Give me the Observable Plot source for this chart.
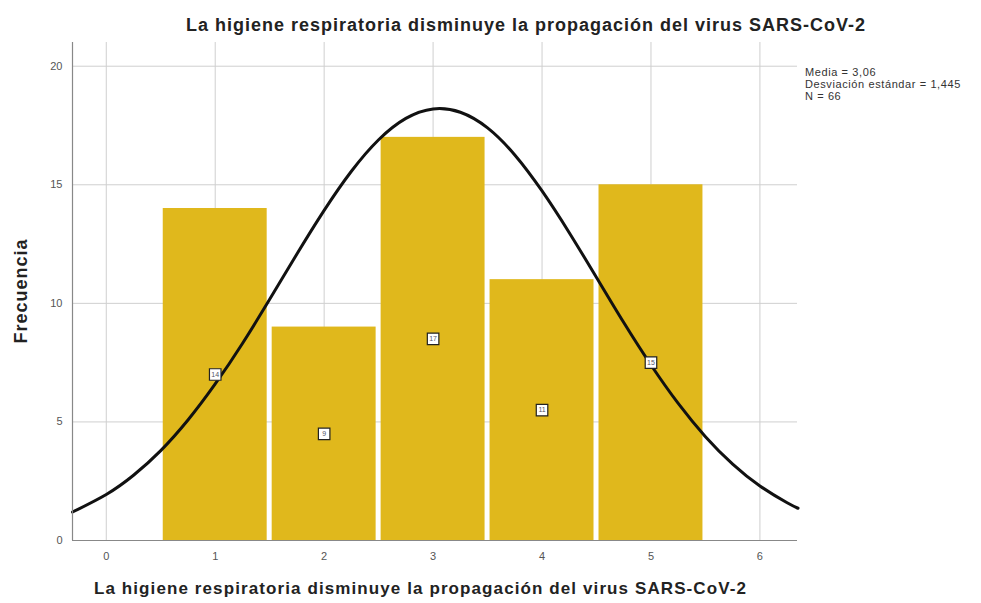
<!DOCTYPE html>
<html>
<head>
<meta charset="utf-8">
<script src="https://cdn.jsdelivr.net/npm/d3@7"></script>
<script src="https://cdn.jsdelivr.net/npm/@observablehq/plot@0.6"></script>
<style>
  html, body { margin: 0; padding: 0; background: #fff; }
  #wrap { position: relative; width: 981px; height: 603px; font-family: "Liberation Sans", Arial, sans-serif; overflow: hidden; }
  #title { position: absolute; left: 0; width: 1052px; top: 15px; text-align: center; font-weight: bold; font-size: 18px; letter-spacing: 1px; color: #222; white-space: nowrap; }
  #xlabel { position: absolute; left: 0; width: 841px; top: 579px; text-align: center; font-weight: bold; font-size: 17px; letter-spacing: 1.1px; color: #222; white-space: nowrap; }
  #ylabel { position: absolute; left: 21px; top: 291px; transform: translate(-50%, -50%) rotate(-90deg); font-weight: bold; font-size: 18px; letter-spacing: 1px; color: #222; white-space: nowrap; }
  #stats { position: absolute; left: 805px; top: 66px; font-size: 11px; letter-spacing: 0.6px; line-height: 12px; color: #333; }
</style>
</head>
<body>
<div id="wrap">
  <div id="chart"></div>
  <div id="title">La higiene respiratoria disminuye la propagación del virus SARS-CoV-2</div>
  <div id="xlabel">La higiene respiratoria disminuye la propagación del virus SARS-CoV-2</div>
  <div id="ylabel">Frecuencia</div>
  <div id="stats"></div>
</div>
<script>
// Categories (response values) and frequencies
const categories = [1, 2, 3, 4, 5];
const counts = [14, 9, 17, 11, 15];

// Normal curve (x, frequency)
const curveX = [-0.31, 0, 0.25, 0.5, 0.75, 1, 1.25, 1.5, 1.75, 2, 2.25, 2.5, 2.75, 3, 3.25, 3.5, 3.75, 4, 4.25, 4.5, 4.75, 5, 5.25, 5.5, 5.75, 6, 6.25, 6.35];
const curveY = [1.20, 1.94, 2.75, 3.79, 5.08, 6.60, 8.31, 10.17, 12.08, 13.92, 15.57, 16.90, 17.80, 18.20, 18.06, 17.40, 16.26, 14.74, 12.98, 11.09, 9.19, 7.40, 5.78, 4.38, 3.22, 2.30, 1.59, 1.36];

// Tick labels
const xTicks = [0, 1, 2, 3, 4, 5, 6];
const yTicks = [0, 5, 10, 15, 20];

// Stats text
const statsLines = ["Media = 3,06", "Desviación estándar = 1,445", "N = 66"];

document.getElementById("stats").innerHTML = statsLines.join("<br>");

const bars = categories.map((c, i) => ({ x1: c - 0.5, x2: c + 0.5, y: counts[i], cat: c }));
const labels = categories.map((c, i) => ({ x: c, y: counts[i] / 2, label: String(counts[i]) }));
const curve = curveX.map((x, i) => ({ x, y: curveY[i] }));

const chart = Plot.plot({
  width: 981,
  height: 603,
  marginLeft: 72,
  marginRight: 184,
  marginTop: 42,
  marginBottom: 63,
  style: { fontFamily: "Liberation Sans, Arial, sans-serif", background: "#fff" },
  x: { domain: [-0.31, 6.345] },
  y: { domain: [0, 21] },
  marks: [
    Plot.gridX(xTicks, { stroke: "#cfcfcf", strokeOpacity: 1 }),
    Plot.gridY(yTicks.filter(d => d > 0), { stroke: "#cfcfcf", strokeOpacity: 1 }),
    Plot.rectY(bars, { x1: "x1", x2: "x2", y: "y", fill: "#e0b81c", insetLeft: 2.5, insetRight: 2.5 }),
    Plot.line(curve, { x: "x", y: "y", stroke: "#111", strokeWidth: 3, curve: "natural" }),
    Plot.dot(labels, { x: "x", y: "y", symbol: "square", r: 6.5, fill: "#fff", stroke: "#222", strokeWidth: 1.2 }),
    Plot.text(labels, { x: "x", y: "y", text: "label", fontSize: 7, fill: "#556" }),
    Plot.axisX(xTicks, { tickSize: 0, tickPadding: 12, fontSize: 11, fill: "#555", label: null }),
    Plot.axisY(yTicks, { tickSize: 0, tickPadding: 10, fontSize: 11, fill: "#555", label: null }),
    Plot.ruleX([-0.31], { stroke: "#888", strokeWidth: 1.2 }),
    Plot.ruleY([0], { stroke: "#888", strokeWidth: 1.2 })
  ]
});
document.getElementById("chart").appendChild(chart);
</script>
</body>
</html>
